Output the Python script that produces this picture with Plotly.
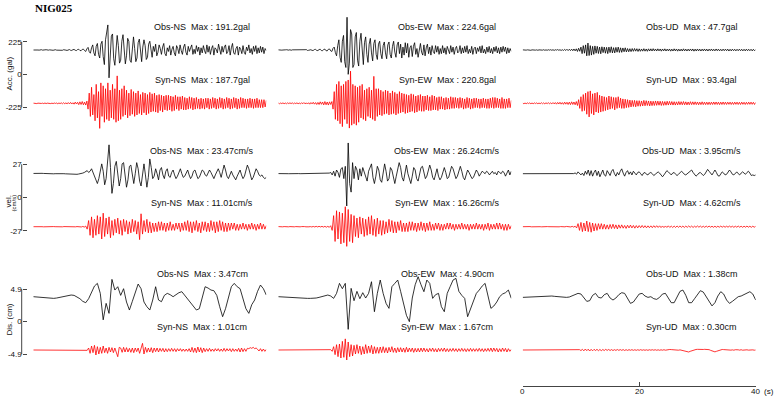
import numpy as np
import plotly.graph_objects as go

W, H = 775, 397

# ---------------- data ----------------
components = ["NS", "EW", "UD"]

# Acceleration (gal), dt = 0.2 s, 0-40 s
acc_obs_ns = [
    0, 1, -1, 1, 0, -1, 1, 2, -1, -2, 1, 2, -1, -1, 1, 2, -1, -2, 1, 2, -1, -2, 2, 1, -2,
    -2, 2, 3, -1, -3, 1, 3, -2, -3, 2, 4, -2, -4, 3, 5, -3, -5, 4, 6, -4,
    -10, 8, 18, -12, -22, 15, 35, -20, -40, 25, 45, -30, -55, 40, 60, -45, -100, 70, 130, 172,
    -191, -80, 95, 110, -60, -105, 40, 100, 30, -90, -70, 60, 105, -20, -95, -40, 80, 60, -70, -85,
    30, 90, 10, -80, -55, 50, 75, -30, -80, 20, 70, 30, -65, -50, 40,
    60, -20, -50, 25, -10, 40, -40, -15, 35, 10, -30, 20, 45, -25, -40, 15, -10, 30, -35, 5, 25, -20, -40, 30, 10,
    -25, 35, -5, -30, 20, 40, -15, -35, 25, -10, 15, 35, -30, 5, -25, 30, -10, 20, -35, 15, -20, 30, -5, -25, 35,
    -15, 25, -30, 10, 30, -35, 15, 5, -20, 40, -10, -30, 25, -15, 20, 35, -25, -10, 30, -35, 15, 45, -20, -30, 10,
    25, -35, 20, 5, -25, 30, -15, -30, 20, -5, 35, -20, 10, -30, 25, -10, 30, -25, 15, -20, 25, -15, 20, -25, 10,
    -5]
acc_syn_ns = [
    1, -1, 2, -2, 1, -1, 2, -1, 1, -2, 2, -2, 1, -1, 2, -2, 1, -2, 2, -1, 2, -3, 2, -2, 3,
    -3, 4, -3, 3, -4, 5, -4, 6, -5, 4, -6, 8, -5, 7, -9, 10, -8, 12, -10, 8,
    -12, 15, -40, 70, -90, 110, -80, 60, -120, 130, -100, 80, -172, 140, -90, 120, -130, 100, -110, 140,
    -120, 90, -100, 130, -110, 100, -130, 188, -120, 90, -110, 100, -90, 120, -80, 90, -100, 70, -85, 95,
    -75, 80, -90, 70, -80, 85, -70, 60, -80, 75, -65, 70, -80, 60, -70,
    75, -60, 65, -55, 70, -60, 55, -65, 60, -50, 55, -60, 50, -45, 55, -50, 55, -45, 50, -55, 45, -50, 55, -40, 45,
    -50, 45, -40, 50, -45, 40, -45, 35, -40, 45, -35, 40, -45, 35, -40, 40, -35, 30, -40, 35, -35, 30, -40, 35, -30,
    35, -40, 30, -35, 40, -30, 35, -40, 30, -35, 40, -30, 35, -40, 30, -35, 40, -30, 35, -40, 30, -35, 40, -30, 35,
    -40, 30, -35, 40, -30, 35, -30, 30, -35, 30, -30, 35, -30, 30, -35, 30, -30, 35, -30, 25, -30, 25, -30, 25, -25,
    20]
acc_obs_ew = [
    1, -1, 2, -1, 0, -2, 1, 2, -1, -1, 2, -2, 1, 1, -2, -1, 2, -2, -1, 2, 2, -2, -3, 2, 3,
    -3, -2, 3, 2, -3, -3, 3, 4, -3, -4, 3, 5, -4, -5, 4, 6, -5, -6, 5, 7,
    -6, -10, 12, 20, -18, -40, 30, 70, -50, -85, 60, 100, -80, -120, 224.6, -167, -90, 140, 110, -120,
    -100, 90, 120, -70, -110, 60, 115, -40, -100, 50, 90, -30, -85, 40, 80, -20, -75, 45, 70, -30,
    -65, 40, 60, -25, -60, 30, 55, -20, -60, 35, 55, -30, -55, 25, 60,
    -15, -50, 35, 55, -25, 40, -55, 20, -35, 50, -20, 45, -50, 15, 30, -45, 25, 50, -30, 10, -50, 20, 45, -15, -35,
    35, -40, 15, 40, -25, 20, -35, 30, -10, -25, 30, -15, 25, -30, 10, -25, 30, -20, 15, -30, 25, -10, -25, 30, -15,
    20, -30, 10, 25, -20, -10, 30, -25, 15, -20, 25, -15, 30, -25, 5, -20, 25, -30, 10, 20, -25, 15, -10, 25, -20,
    30, -20, 5, -25, 20, -15, 25, -20, 10, -25, 20, -10, 25, -20, 15, -25, 20, -15, 25, -10, 20, -25, 15, -20, 10,
    -10]
acc_syn_ew = [
    2, -3, 2, -2, 3, -3, 2, -3, 3, -2, 3, -2, 3, -3, 2, -2, 3, -3, 2, -4, 4, -3, 5, -4, 3,
    -5, 4, -6, 5, -4, 7, -6, 5, -8, 6, -8, 10, -7, 9, -11, 12, -10, 9, -12, 10,
    -8, 12, -40, 80, -110, 130, -120, 150, -140, 120, -160, 130, -110, 150, -140, 160, -170, 220.8, -150, 130,
    -140, 120, -150, 110, -130, 120, -100, 130, -110, 90, -120, 100, -90, 110, -100, 90, -110, 185, -120, 100,
    -90, 100, -80, 90, -85, 80, -75, 90, -70, 85, -80, 70, -75, 85, -70,
    75, -80, 65, -70, 80, -65, 70, -60, 65, -70, 60, -65, 55, -60, 65, -55, 60, -65, 50, -60, 55, -50, 60, -55, 50,
    -55, 50, -45, 55, -50, 45, -50, 55, -45, 50, -45, 40, -50, 45, -40, 45, -40, 35, -45, 40, -40, 35, -40, 45, -35,
    40, -35, 40, -30, 35, -35, 40, -30, 35, -40, 30, -35, 40, -30, 35, -40, 30, -35, 35, -30, 35, -30, 30, -35, 30,
    -30, 35, -30, 30, -35, 30, -35, 35, -30, 40, -35, 40, -30, 35, -30, 30, -35, 40, -35, 30, -35, 30, -30, 35, -30,
    20]
acc_obs_ud = [
    1, -1, 1, -1, 1, -1, 1, -2, 1, -1, 2, -1, 1, -2, 1, -1, 2, -1, 2, -2, 1, -2, 2, -1, 2,
    -2, 2, -3, 2, -1, 3, -2, 2, -3, 2, -3, 4, -3, 5, -4, 5, -4, 6, -5, 7,
    -6, 8, -10, 12, -9, 20, -25, 30, -22, 35, -40, 47.7, -38, 30, -35, 25, -30, 28, -22, 25,
    -24, 20, -26, 22, -18, 20, -22, 18, -25, 20, -18, 22, -20, 16, -20, 18, -15, 20, -17, 15,
    -16, 14, -12, 15, -13, 10, -12, 9, -11, 10, -9, 10, -8, 9, -10,
    8, -9, 7, -8, 9, -8, 7, -9, 8, -7, 8, -7, 9, -6, 7, -7, 8, -6, 7, -8, 7, -6, 8, -7, 6,
    -6, 7, -8, 6, -7, 8, -6, 7, -8, 6, -7, 6, -7, 8, -6, 6, -7, 6, -6, 7, -6, 7, -8, 6, -7,
    7, -6, 6, -7, 6, -6, 7, -6, 6, -7, 6, -5, 7, -6, 5, -6, 7, -5, 6, -6, 5, -6, 6, -5, 6,
    -5, 6, -7, 5, -6, 6, -5, 5, -6, 5, -5, 6, -5, 5, -6, 5, -6, 6, -5, 5, -5, 5, -6, 5, -5,
    3]
acc_syn_ud = [
    2, -3, 2, -3, 3, -2, 3, -3, 2, -3, 3, -2, 3, -3, 2, -3, 4, -3, 3, -4, 4, -3, 5, -4, 3,
    -4, 5, -4, 5, -6, 6, -5, 7, -6, 5, -7, 8, -6, 7, -8, 8, -9, 10, -8, 9,
    -10, 12, -15, 25, -35, 45, -55, 60, -50, 70, -75, 80, -93.4, 85, -70, 65, -80, 70, -60, 75,
    -65, 55, -60, 50, -55, 45, -50, 40, -45, 50, -40, 45, -35, 40, -45, 40, -35, 45, -30, 35,
    -35, 30, -35, 28, -30, 25, -28, 22, -25, 20, -22, 20, -24, 18, -20,
    18, -20, 16, -18, 20, -17, 18, -15, 16, -18, 15, -16, 14, -15, 16, -14, 15, -13, 14, -15, 13, -14, 12, -13, 14,
    -12, 13, -11, 12, -12, 11, -12, 10, -11, 12, -10, 11, -10, 12, -10, 10, -11, 9, -10, 11, -9, 10, -9, 10, -9,
    9, -10, 8, -9, 10, -9, 8, -9, 8, -9, 8, -9, 8, -8, 9, -8, 9, -8, 8, -9, 8, -8, 9, -8, 8,
    -8, 8, -7, 8, -8, 7, -8, 8, -7, 8, -8, 7, -8, 8, -7, 7, -8, 7, -7, 8, -7, 8, -7, 7, -8,
    6]

# Velocity (cm/s), dt = 0.25 s, 0-40 s
vel_obs_ns = [
    0.2, 0.3, 0.2, 0.1, 0.2, 0.3, 0.3, 0.2, 0.1, 0.0, 0.1, 0.2, 0.1, 0.0, -0.1, 0.0, 0.1, 0.0, -0.1, -0.2,
    -0.1, 0.0, -0.1, -0.2, -0.3, -0.2, -0.3, -0.4, -0.3, -0.4, -0.5, -0.3, -0.2, 0.0, 0.5, 1.0,
    1.5, 2.5, 1.0, 2.0, 4.0, 1.0, -2.0, -5.0, -8.0, -4.0, 3.0, 8.0, 2.0, -9.0, -4.0, 12.0,
    23.47, 5.0, -16.0, -8.0, 6.0, 10.0, -2.0, -10.0, -4.0, 8.0, 9.0, -3.0, -11.0, -5.0, 6.0, 7.0,
    -2.0, -8.0, 0.0, 9.0, 4.0, -6.0, -10.0, 2.0, 8.0, -1.0, -11.0, -3.0,
    12.0, 5.0, -4.0, -2.0, 4.0, 0.0, -5.0, 3.0, 5.0, -1.0, -4.0, 2.0, 4.0, -2.0, -3.0, 1.0, 3.0, -1.0, -4.0, -2.0,
    2.0, 4.0, 0.0, -3.0, -2.0, 1.0, 3.0, -1.0, -4.0, -2.0, 2.0, 3.0, -1.0, -4.0, -3.0, 1.0, 3.0, 2.0, -1.0, -2.0,
    0.0, 3.0, 1.0, -2.0, -4.0, -1.0, 2.0, 4.0, 1.0, -3.0, 2.0, 7.0, 3.0, -2.0, -4.0, 0.0, 2.0, -1.0, -3.0, -5.0,
    -2.0, 1.0, 3.0, -1.0, -4.0, -2.0, 3.0, 7.0, 4.0, -2.0, -5.0, -3.0, 1.0, 4.0, 2.0, -1.0, -2.0, -1.0, -3.0, -4.0,
    -3.0]
vel_syn_ns = [
    0.0, 0.1, 0.0, -0.1, 0.0, 0.1, 0.0, -0.1, 0.0, 0.1, 0.1, 0.0, -0.1, 0.0, 0.1, 0.0, -0.1, 0.0, 0.1, 0.0,
    -0.1, 0.1, 0.0, -0.1, 0.1, 0.0, -0.1, 0.1, 0.0, -0.1, 0.1, -0.1, 0.1, -0.2, 0.2, -0.3,
    0.5, -2.0, 5.0, -7.0, 8.0, -9.0, 6.0, -7.0, 9.0, -6.0, 8.0, -10.0, 11.01, -8.0, 7.0, -6.0,
    8.0, -9.0, 5.0, -7.0, 6.0, -5.0, 7.0, -6.0, 5.0, -7.0, 6.0, -4.0, 5.0, -6.0, 4.0, -5.0,
    6.0, -4.0, 5.0, -6.0, 4.0, -10.5, 10.5, -6.0, 5.0, -4.0, 6.0, -5.0,
    4.0, -5.0, 3.0, -4.0, 3.0, -4.0, 4.0, -3.0, 4.0, -3.0, 3.0, -4.0, 3.0, -3.0, 4.0, -3.0, 2.0, -3.0, 3.0, -2.0,
    3.0, -4.0, 3.0, -3.0, 4.0, -3.0, 5.0, -4.0, 4.0, -5.0, 4.0, -3.0, 5.0, -4.0, 3.0, -5.0, 4.0, -3.0, 4.0, -4.0,
    3.0, -4.0, 5.0, -3.0, 4.0, -5.0, 4.0, -4.0, 5.0, -3.0, 4.0, -4.0, 3.0, -4.0, 3.0, -3.0, 3.0, -2.0, 3.0, -3.0,
    2.0, -3.0, 2.0, -2.0, 3.0, -2.0, 2.0, -3.0, 2.0, -2.0, 3.0, -2.0, 2.0, -3.0, 2.0, -2.0, 3.0, -2.0, 2.0, -2.0,
    1.0]
vel_obs_ew = [
    0.1, 0.0, 0.1, 0.0, -0.1, 0.0, 0.1, 0.0, 0.0, 0.1, 0.0, -0.1, 0.0, 0.1, 0.1, 0.0, 0.0, -0.1, 0.0, 0.1,
    0.1, 0.0, -0.1, 0.0, 0.0, 0.1, 0.2, 0.1, 0.0, 0.2, 0.3, 0.1, 0.2, 0.4, 0.2, 0.5,
    1.0, -1.0, 2.0, -2.0, 3.0, 1.0, -3.0, 4.0, 5.0, -4.0, 6.0, -26.24, 25.0, -8.0, -15.0, 9.0,
    -4.0, 6.0, 3.0, -5.0, 4.0, -2.0, 5.0, 1.0, -4.0, -6.0, 2.0, 5.0, 8.0, -3.0, -8.0, -2.0,
    6.0, 3.0, -5.0, -7.0, 1.0, 8.0, 2.0, -6.0, -4.0, 5.0, 3.0, -3.0,
    -8.0, -2.0, 4.0, 9.0, 5.0, -3.0, -6.0, 2.0, 7.0, 0.0, -5.0, -8.0, -2.0, 5.0, 3.0, -4.0, -6.0, 0.0, 5.0, 6.0,
    1.0, -4.0, -2.0, 3.0, 7.0, 3.0, -3.0, -5.0, 0.0, 4.0, -2.0, -5.0, -3.0, 2.0, 5.0, 1.0, -4.0, -3.0, 2.0, 6.0,
    4.0, -1.0, -4.0, -2.0, 3.0, 6.0, 2.0, -3.0, -5.0, -1.0, 3.0, 1.0, -2.0, -4.0, -3.0, 1.0, 3.0, 1.0, -2.0, 0.0,
    2.0, 1.0, 0.0, 2.0, 1.0, -1.0, 1.0, 2.0, 0.0, 1.0, -1.0, 2.0, 1.0, 0.0, 2.0, 1.0, -2.0, 0.0, 3.0, -1.0,
    2.0]
vel_syn_ew = [
    0.1, -0.1, 0.1, -0.1, 0.1, -0.1, 0.1, -0.1, 0.1, -0.1, 0.1, -0.1, 0.1, -0.1, 0.2, -0.1, 0.1, -0.2, 0.1, -0.1,
    0.2, -0.1, 0.1, -0.2, 0.2, -0.2, 0.3, -0.2, 0.3, -0.2, 0.3, -0.3, 0.3, -0.4, 0.3, -0.5,
    0.8, -3.0, 9.0, -12.0, 13.0, -10.0, 12.0, -14.0, 11.0, -13.0, 16.26, -16.0, 14.0, -12.0, 10.0, -13.0,
    9.0, -8.0, 7.0, -9.0, 8.0, -6.0, 7.0, -8.0, 6.0, -7.0, 8.0, -6.0, 9.0, -7.0, 6.0, -8.0,
    7.0, -6.0, 5.0, -7.0, 5.0, -6.0, 4.0, -5.0, 6.0, -4.0, 5.0, -5.0,
    4.0, -5.0, 4.0, -3.0, 5.0, -4.0, 3.0, -4.0, 3.0, -4.0, 4.0, -3.0, 4.0, -3.0, 3.0, -4.0, 3.0, -3.0, 4.0, -3.0,
    3.0, -4.0, 3.0, -3.0, 4.0, -3.0, 2.0, -3.0, 3.0, -2.0, 3.0, -3.0, 2.0, -3.0, 2.0, -2.0, 3.0, -2.0, 3.0, -2.0,
    2.0, -3.0, 2.0, -2.0, 2.0, -2.0, 3.0, -2.0, 2.0, -2.0, 2.0, -3.0, 2.0, -2.0, 2.0, -2.0, 3.0, -2.0, 2.0, -2.0,
    2.0, -3.0, 2.0, -2.0, 3.0, -3.0, 2.0, -2.0, 2.0, -2.0, 3.0, -2.0, 3.0, -2.0, 2.0, -3.0, 2.0, -3.0, 2.0, -2.0,
    1.0]
vel_obs_ud = [
    0.0, 0.0, 0.1, 0.0, 0.0, 0.1, 0.0, 0.0, -0.1, 0.0, 0.0, 0.1, 0.0, 0.0, 0.1, 0.1, 0.0, 0.0, -0.1, 0.0,
    0.1, 0.0, 0.0, 0.1, 0.2, 0.1, 0.0, 0.1, 0.2, 0.1, 0.2, 0.3, 0.2, 0.4, 0.3, 0.1,
    0.6, -0.4, 1.5, 0.2, -1.0, 0.5, -1.5, 2.0, -0.5, 3.0, -1.5, 2.5, -2.0, 1.0, 3.0, -1.5,
    2.0, -2.5, 1.0, 3.0, -1.0, -2.0, 2.5, 0.5, -1.5, 2.0, 3.5, 0.0, -2.0, 1.0, -1.0, 2.0,
    3.95, 0.5, -2.0, 1.0, 2.5, -0.5, 1.5, -1.0, 2.0, 0.5, -1.0, 1.0,
    1.5, 0.0, -1.5, 0.5, 1.0, -0.5, -1.0, 0.5, 1.0, 0.0, -1.5, -0.5, 0.5, 1.5, 0.5, -1.0, -2.5, -1.0, 1.0, 2.5,
    1.5, 0.0, -1.0, 0.5, 1.0, -0.5, -1.5, -0.5, 0.5, 2.0, 1.0, -0.5, -1.0, 0.0, 1.5, 2.0, 3.0, 1.0, -0.5, -2.0,
    -1.0, 0.5, 1.0, 0.0, -1.5, -0.5, 1.5, 3.5, 2.0, 0.0, -1.0, 1.0, 3.0, 1.0, -1.5, -2.0, 0.0, 1.5, 0.5, -1.0,
    -0.5, 1.0, 3.0, 1.5, -0.5, -1.0, 0.5, 1.5, 0.0, -1.0, 0.5, 1.5, 0.5, -0.5, 1.0, 2.0, 0.5, -1.5, -1.0, -1.5,
    -1.0]
vel_syn_ud = [
    0.0, 0.1, 0.0, -0.1, 0.0, 0.1, -0.1, 0.0, 0.1, 0.0, -0.1, 0.1, 0.0, -0.1, 0.1, 0.0, -0.1, 0.1, 0.0, -0.1,
    0.1, 0.0, -0.1, 0.1, 0.0, -0.1, 0.1, -0.1, 0.1, -0.1, 0.2, -0.1, 0.2, -0.2, 0.3, -0.3,
    0.4, -1.0, 2.5, -3.0, 3.5, -4.0, 3.0, -3.5, 4.62, -4.0, 3.5, -4.5, 3.0, -3.5, 2.5, -3.0,
    2.5, -2.0, 2.5, -2.0, 2.0, -2.0, 1.5, -2.0, 1.8, -1.5, 2.0, -1.5, 1.5, -1.8, 1.5, -1.2,
    1.5, -1.2, 1.0, -1.4, 1.2, -1.0, 1.3, -1.0, 1.0, -1.2, 0.9, -1.0,
    0.9, -0.8, 1.0, -0.8, 0.8, -0.9, 0.7, -0.8, 0.7, -0.8, 0.8, -0.6, 0.8, -0.6, 0.7, -0.7, 0.6, -0.7, 0.6, -0.6,
    0.7, -0.6, 0.5, -0.6, 0.5, -0.6, 0.6, -0.5, 0.6, -0.5, 0.5, -0.6, 0.5, -0.5, 0.6, -0.5, 0.5, -0.6, 0.4, -0.5,
    0.6, -0.4, 0.5, -0.5, 0.4, -0.5, 0.5, -0.4, 0.5, -0.4, 0.4, -0.5, 0.4, -0.5, 0.4, -0.4, 0.5, -0.4, 0.4, -0.4,
    0.4, -0.4, 0.5, -0.4, 0.4, -0.5, 0.4, -0.4, 0.5, -0.4, 0.4, -0.5, 0.4, -0.4, 0.5, -0.4, 0.4, -0.5, 0.4, -0.4,
    0.3]

# Displacement (cm); observed dt = 0.5 s, synthetic dt = 0.25 s
dis_obs_ns = [
    0.0, -0.05, -0.1, -0.15, -0.2, -0.22, -0.25, -0.25, -0.2, -0.1, 0.0, 0.1, 0.2, 0.25, 0.2, 0.0, -0.3, -0.7,
    -0.9, -0.3, 0.6, 1.6, 2.0, 0.5, -3.47, -1.0, -2.5, 2.6, 1.0, 1.5, 0.2, 1.2, -0.8, -2.0, -0.7, 0.5,
    1.9, 1.2, -0.8, -1.5, -2.0, -0.5, 1.5, -0.5, -0.75, 0.2, 0.5, 0.3, 0.0, 0.3, 0.6, 0.75, 0.2, -0.3,
    -0.9, -1.5, -2.0, -1.8, -0.3, 1.5, 1.3, 1.0, 0.9, 0.2, -1.5, -3.0, -1.8, 0.0, 1.5, 2.0, 1.5, 1.2,
    -0.3, -1.8, -2.5, -1.2, -0.5, 0.8, 1.75, 1.2, 0.25]
dis_syn_ns = [
    0, 0, 0, 0, 0, 0, 0, 0, 0, 0, 0, 0, 0, 0, 0, 0, 0, 0, 0, 0, 0, 0, 0, 0, 0, 0, 0, 0, 0, 0, 0, 0.01,
    0, -0.01, 0.01, 0, 0.02, -0.05, 0.3, -0.5, 0.6, -0.4, 0.7, -0.75, 0.5, -0.6, 0.4, -0.5,
    0.6, -0.4, 0.3, -0.5, 0.4, -0.3, 0.35, -0.4, 0.3, -0.5, -1.01, 0.4, 0.3, -0.35, 0.4, -0.3,
    0.35, -0.3, 0.25, -0.35, 0.3, -0.4, 0.3, -0.25, 0.3, -0.5, 0.5, 1.0, -0.6, 0.4, -0.35, 0.3,
    -0.3, 0.35, -0.4, 0.3, -0.25, 0.3, -0.3, 0.25, -0.2, 0.25, -0.3, 0.2, -0.25, 0.2, -0.2, 0.25,
    -0.2, 0.2, -0.25, 0.2, -0.15, 0.2, -0.2, 0.15, -0.2, 0.15, -0.2, 0.2, -0.3, 0.4, -0.35, 0.3,
    -0.4, 0.45, -0.3, 0.35, -0.4, 0.3, -0.25, 0.2, -0.2, 0.25, -0.2, 0.15, -0.2, 0.2, -0.15, 0.2,
    -0.2, 0.15, -0.2, 0.25, -0.2, 0.2, -0.15, 0.2, -0.25, 0.2, -0.2, 0.15, -0.2, 0.25, -0.3, 0.3,
    -0.25, 0.2, -0.2, 0.25, 0.2, 0.35, 0.25, 0.4, 0.2, 0.3, 0.1, -0.15, 0.2, -0.2, 0.15, -0.2,
    0.1]
dis_obs_ew = [
    0.0, -0.03, -0.07, -0.1, -0.15, -0.2, -0.23, -0.25, -0.25, -0.25, -0.25, -0.25, -0.25, -0.2, -0.1, 0.05,
    0.2, 0.25, 0.1, -0.25, 0.5, 2.0, 1.2, 2.0, -4.9, 1.25, -0.6, 0.8, -0.3, 0.6, -0.2, 0.5, 2.25, -2.25,
    0.5, 2.5, 0.5, -1.0, -1.75, 1.5, 2.0, 2.5, 0.8, -1.2, -2.8, -3.75, -0.2, 1.8, 3.0, 1.8, 0.75, 2.5,
    2.0, -0.25, 0.3, 0.5, -1.5, -2.25, 0.5, 1.5, 2.5, 2.75, 0.8, 0.2, -0.25, -3.0, -1.8, -0.6, 0.5, 1.0,
    1.6, 2.0, 0.2, -1.75, -1.4, -0.8, 0.0, 0.4, 0.6, 1.0, -0.25]
dis_syn_ew = [
    0, 0, 0, 0, 0, 0, 0, 0, 0, 0, 0, 0, 0, 0, 0, 0, 0, 0, 0, 0, 0, 0, 0, 0, 0, 0, 0, 0, 0, 0.01, 0, 0.01,
    0, -0.01, 0.02, -0.02, 0.05, -0.2, 0.5, -0.7, 0.8, -1.0, 0.9, -1.2, 1.3, -1.1, 1.67, -1.5,
    1.2, -1.0, 0.8, -0.9, 0.7, -0.6, 0.8, -0.5, 0.6, -0.7, 0.5, -0.6, 0.8, -0.5, 0.6, -0.4,
    0.7, -0.6, 0.5, -0.5, 0.4, -0.5, 0.45, -0.4, 0.5, -0.4, 0.35, -0.45, 0.4, -0.3, 0.5, -0.35,
    0.3, -0.4, 0.35, -0.3, 0.35, -0.3, 0.3, -0.35, 0.4, -0.3, 0.3, -0.25, 0.3, -0.35, 0.25, -0.3,
    0.25, -0.3, 0.3, -0.25, 0.3, -0.25, 0.2, -0.3, 0.25, -0.2, 0.3, -0.25, 0.2, -0.3, 0.25, -0.2,
    0.25, -0.2, 0.3, -0.25, 0.2, -0.25, 0.2, -0.2, 0.25, -0.2, 0.2, -0.25, 0.2, -0.2, 0.25, -0.2,
    0.2, -0.25, 0.2, -0.2, 0.25, -0.2, 0.2, -0.2, 0.2, -0.2, 0.25, -0.2, 0.2, -0.25, 0.2, -0.2,
    0.25, -0.2, 0.3, -0.25, 0.3, -0.2, 0.25, -0.3, 0.2, -0.25, 0.3, -0.2, 0.25, -0.3, 0.2, -0.2,
    0.1]
dis_obs_ud = [
    -0.1, -0.08, -0.05, -0.02, 0.0, 0.03, 0.05, 0.08, 0.1, 0.1, 0.1, 0.05, 0.0, -0.05, -0.1, -0.1,
    -0.05, 0.1, 0.3, 0.5, 0.4, -0.2, -0.7, -0.6, 0.2, 0.5, -0.1, -0.2, 0.3, 0.5, -0.2, -0.5, -0.2, 0.3,
    0.6, 0.5, -0.3, -1.0, -0.8, -0.2, 0.4, 0.5, 0.1, -0.1, 0.0, -0.3, -0.4, -0.1, 0.4, 0.5, -0.2, -0.9,
    -0.9, -0.1, 0.8, 1.0, 0.2, -0.9, -0.9, -0.3, 0.4, 0.9, 0.7, 0.0, -0.8, -1.38, -0.9, 0.1, 0.75, 0.4,
    -0.5, -1.0, -0.7, -0.3, 0.0, 0.1, 0.3, 0.6, 0.75, 0.4, -0.5]
dis_syn_ud = [
    0, 0, 0, 0, 0, 0, 0, 0, 0, 0, 0, 0, 0, 0, 0, 0, 0, 0, 0, 0, 0, 0, 0, 0, 0, 0, 0, 0, 0, 0, 0, 0,
    0, 0, 0.01, 0, -0.01, 0.02, -0.03, 0.05, -0.08, 0.1, -0.12, 0.15, -0.1, 0.12, -0.15, 0.1,
    -0.12, 0.1, -0.08, 0.1, -0.1, 0.08, -0.1, 0.07, -0.08, 0.1, -0.06, 0.08, -0.07, 0.06, -0.08, 0.05,
    -0.06, 0.07, -0.05, 0.06, -0.05, 0.06, -0.07, 0.05, -0.06, 0.05, -0.04, 0.05, -0.05, 0.04, -0.05, 0.04,
    -0.04, 0.05, -0.04, 0.03, -0.04, 0.03, -0.05, 0.04, -0.03, 0.04, -0.03, 0.04, -0.04, 0.03, -0.04, 0.03,
    -0.03, 0.04, -0.03, 0.03, 0.05, 0.08, 0.06, 0.03, 0.0, -0.04, 0.02, -0.03, 0.02, -0.05, -0.08, -0.12,
    -0.2, -0.25, -0.3, -0.2, -0.1, 0.0, 0.05, 0.08, 0.1, 0.08, 0.05, 0.03, 0.08, 0.1, 0.12, 0.1,
    0.05, -0.05, -0.15, -0.25, -0.28, -0.2, -0.1, 0.0, 0.05, 0.08, 0.06, 0.03, 0.02, 0.04, 0.0, -0.02,
    0.02, -0.03, 0.04, -0.02, 0.03, -0.02, 0.04, -0.03, 0.02, -0.03, 0.03, -0.02, 0.03, -0.02, 0.02, -0.03,
    0.0]

obs_max = {"acc": ["191.2", "224.6", "47.7"], "vel": ["23.47", "26.24", "3.95"], "dis": ["3.47", "4.90", "1.38"]}
syn_max = {"acc": ["187.7", "220.8", "93.4"], "vel": ["11.01", "16.26", "4.62"], "dis": ["1.01", "1.67", "0.30"]}
units = {"acc": "gal", "vel": "cm/s", "dis": "cm"}
tick_val = {"acc": 225, "vel": 27, "dis": 4.9}
tick_txt = {"acc": ["-225", "0", "225"], "vel": ["-27", "0", "27"], "dis": ["-4.9", "0", "4.9"]}
time_ticks = [0, 20, 40]

series = {
    "acc": ([acc_obs_ns, acc_obs_ew, acc_obs_ud], [acc_syn_ns, acc_syn_ew, acc_syn_ud]),
    "vel": ([vel_obs_ns, vel_obs_ew, vel_obs_ud], [vel_syn_ns, vel_syn_ew, vel_syn_ud]),
    "dis": ([dis_obs_ns, dis_obs_ew, dis_obs_ud], [dis_syn_ns, dis_syn_ew, dis_syn_ud]),
}

# ---------------- layout (pixel geometry) ----------------
COL_X0 = [33.3, 278.3, 522.7]
COL_W = 233.0
AXIS_X = 21.7
TIME_AXIS_Y = 386.0
geom = {
    "acc": dict(p_top=41.7, p_bot=107.3, dom=(4, 140), obs=50.0, syn=103.3, lab=(27.0, 80.3), yax="y", ykey="yaxis"),
    "vel": dict(p_top=164.3, p_bot=230.7, dom=(136, 258), obs=173.7, syn=226.7, lab=(150.5, 203.5), yax="y2", ykey="yaxis2"),
    "dis": dict(p_top=289.0, p_bot=354.3, dom=(262, 374), obs=296.7, syn=350.0, lab=(274.0, 327.0), yax="y3", ykey="yaxis3"),
}
xaxes = ["x", "x2", "x3"]
xkeys = ["xaxis", "xaxis2", "xaxis3"]

FONT = "Liberation Sans, Arial, sans-serif"
fig = go.Figure()
layout = dict(
    width=W, height=H, margin=dict(l=0, r=0, t=0, b=0),
    paper_bgcolor="white", plot_bgcolor="rgba(0,0,0,0)", showlegend=False,
    font=dict(family=FONT, size=9, color="#111"),
)
annotations = []
shapes = []

for ci in range(3):
    ax = dict(domain=[COL_X0[ci] / W, (COL_X0[ci] + COL_W) / W], range=[0, 40],
              showgrid=False, zeroline=False, fixedrange=True)
    if ci < 2:
        ax.update(visible=False, anchor="y")
    else:
        ax.update(anchor="free", position=(H - TIME_AXIS_Y) / H, showline=True, linecolor="#444",
                  linewidth=1, ticks="inside", ticklen=4, tickcolor="#444", tickvals=time_ticks,
                  showticklabels=False)
    layout[xkeys[ci]] = ax

for tv in time_ticks:
    annotations.append(dict(text=str(tv), xref="x3", yref="paper", x=tv, y=1 - (TIME_AXIS_Y + 5.0) / H,
                            xanchor="center", yanchor="middle", showarrow=False,
                            font=dict(size=8, family=FONT, color="#111")))
annotations.append(dict(text="(s)", xref="paper", yref="paper", x=762.0 / W, y=1 - (TIME_AXIS_Y + 5.0) / H,
                        xanchor="left", yanchor="middle", showarrow=False,
                        font=dict(size=8, family=FONT, color="#111")))

for g, gm in geom.items():
    t = tick_val[g]
    k = (gm["p_bot"] - gm["p_top"]) / (2 * t)
    y0 = (gm["p_top"] + gm["p_bot"]) / 2
    top, bot = gm["dom"]
    rng = [(y0 - bot) / k, (y0 - top) / k]
    layout[gm["ykey"]] = dict(
        domain=[1 - bot / H, 1 - top / H], range=rng, anchor="free", position=AXIS_X / W,
        side="left", showline=False, showgrid=False, zeroline=False, ticks="inside", ticklen=4,
        tickcolor="#444", tickvals=[-t, 0, t], ticktext=tick_txt[g],
        tickfont=dict(size=8, family=FONT, color="#111"), fixedrange=True,
    )
    shapes.append(dict(type="line", xref="paper", yref=gm["yax"], x0=AXIS_X / W, x1=AXIS_X / W,
                       y0=-t, y1=t, line=dict(color="#444", width=1)))
    off_obs = (y0 - gm["obs"]) / k
    off_syn = (y0 - gm["syn"]) / k
    obs_list, syn_list = series[g]
    for ci in range(3):
        for vals, off, color, lab, mx, ly in (
            (obs_list[ci], off_obs, "#000000", "Obs", obs_max[g][ci], gm["lab"][0]),
            (syn_list[ci], off_syn, "#ff0000", "Syn", syn_max[g][ci], gm["lab"][1]),
        ):
            v = np.asarray(vals, dtype=float)
            tt = np.linspace(0, 40, len(v))
            fig.add_trace(go.Scatter(x=tt, y=v + off, mode="lines", xaxis=xaxes[ci], yaxis=gm["yax"],
                                     line=dict(color=color, width=0.8), hoverinfo="skip"))
            annotations.append(dict(
                text=f"{lab}-{components[ci]}\u00a0 Max : {mx}{units[g]}", xref="paper", yref="paper",
                x=(COL_X0[ci] + 169) / W, y=1 - ly / H, xanchor="center", yanchor="middle",
                showarrow=False, font=dict(size=9, family=FONT, color="#111")))

def side_label(text, px, py, size=8):
    annotations.append(dict(text=text, xref="paper", yref="paper", x=px / W, y=1 - py / H,
                            xanchor="center", yanchor="middle", textangle=-90, showarrow=False,
                            font=dict(size=size, family=FONT, color="#111")))

side_label("Acc. (gal)", 8.5, 74.0)
side_label("vel.", 7.5, 202.0)
side_label("(cm/s)", 13.5, 203.0, size=6)
side_label("Dis. (cm)", 8.5, 320.0)

annotations.append(dict(text="<b>NIG025</b>", xref="paper", yref="paper", x=33.0 / W, y=1 - 7.5 / H,
                        xanchor="left", yanchor="middle", showarrow=False,
                        font=dict(size=11, family="Liberation Serif, Times New Roman, serif", color="#000")))

layout["annotations"] = annotations
layout["shapes"] = shapes
fig.update_layout(**layout)
fig.write_html("out.html", config={"displayModeBar": False, "staticPlot": True},
               post_script="document.body.style.margin='0px';document.body.style.padding='0px';")
